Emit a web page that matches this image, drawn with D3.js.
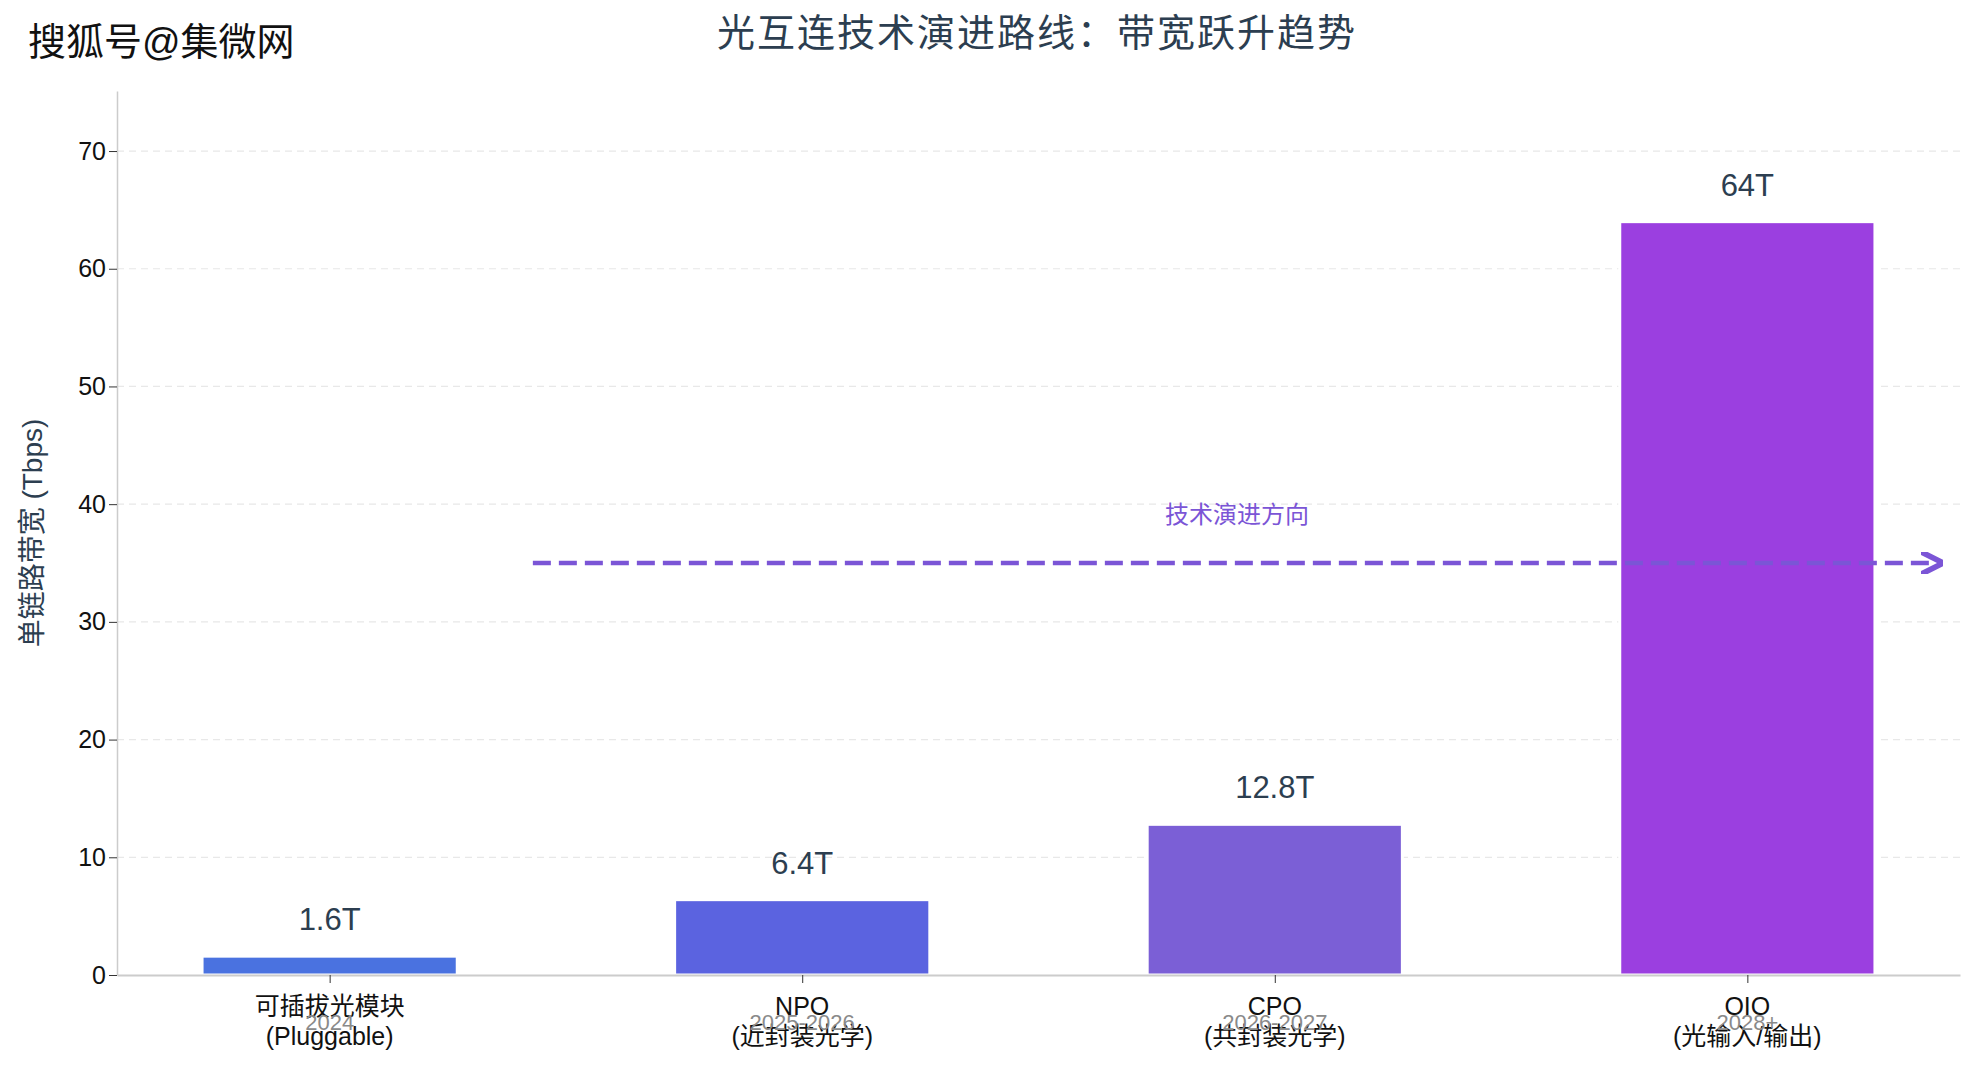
<!DOCTYPE html>
<html><head><meta charset="utf-8">
<script src="https://cdn.jsdelivr.net/npm/d3@7"></script>
<style>body{margin:0;background:#fff;font-family:"Liberation Sans","Noto Sans CJK SC",sans-serif;}</style>
</head><body><svg width="1979" height="1076"></svg>
<script>
var categories = ["可插拔光模块\n(Pluggable)", "NPO\n(近封装光学)", "CPO\n(共封装光学)", "OIO\n(光输入/输出)"];
var years = ["2024", "2025-2026", "2026-2027", "2028+"];
var values = [1.6, 6.4, 12.8, 64];
var labels = ["1.6T", "6.4T", "12.8T", "64T"];
var colors = ["#4a72e0", "#5b63e0", "#7b5fd6", "#9b3fe0"];
var yTicks = [0, 10, 20, 30, 40, 50, 60, 70];

var svg = d3.select("svg");
var padL = 117, padR = 1960, padT = 91, padB = 975;
var font = "'Liberation Sans','Noto Sans CJK SC',sans-serif";

var xScale = d3.scaleLinear().domain([-0.45, 3.45]).range([padL, padR]);
var yScale = d3.scaleLinear().domain([0, 75.1]).range([padB, padT]);

// grid
svg.append("g").selectAll("line").data(yTicks.slice(1)).enter().append("line")
  .attr("x1", padL).attr("x2", padR)
  .attr("y1", d => yScale(d)).attr("y2", d => yScale(d))
  .attr("stroke", "#e8e8e8").attr("stroke-dasharray", "7,5").attr("stroke-width", 1.2);

// bars
var bw = xScale(0.54) - xScale(0);
svg.append("g").selectAll("rect").data(values).enter().append("rect")
  .attr("x", (d, i) => xScale(i) - bw / 2)
  .attr("width", bw)
  .attr("y", d => yScale(d))
  .attr("height", d => yScale(0) - yScale(d))
  .attr("fill", (d, i) => colors[i])
  .attr("stroke", "#fff").attr("stroke-width", 3);

svg.append("g").selectAll("text").data(values).enter().append("text")
  .attr("x", (d, i) => xScale(i))
  .attr("y", d => yScale(d) - 26)
  .attr("text-anchor", "middle")
  .style("font-family", font).style("font-size", "31px").attr("fill", "#2c3e50")
  .text((d, i) => labels[i]);

// axes
var yAxis = d3.axisLeft(yScale).tickValues(yTicks).tickSize(8).tickSizeOuter(0);
var gy = svg.append("g").attr("transform", "translate(" + padL + ",0)").call(yAxis);
gy.select(".domain").attr("stroke", "#ccc").attr("stroke-width", 1.5);
gy.selectAll(".tick line").attr("stroke", "#333");
gy.selectAll(".tick text").style("font-family", font).style("font-size", "25px").attr("fill", "#111");

var xAxis = d3.axisBottom(xScale).tickValues([0, 1, 2, 3]).tickFormat("").tickSize(8).tickSizeOuter(0);
var gx = svg.append("g").attr("transform", "translate(0," + padB + ")").call(xAxis);
gx.select(".domain").attr("stroke", "#ccc").attr("stroke-width", 2);
gx.selectAll(".tick line").attr("stroke", "#333");

var cat = svg.append("g").selectAll("text").data(categories).enter().append("text")
  .attr("x", (d, i) => xScale(i)).attr("y", 1015)
  .attr("text-anchor", "middle")
  .style("font-family", font).style("font-size", "25px").attr("fill", "#111");
cat.selectAll("tspan").data(d => d.split("\n")).enter().append("tspan")
  .attr("x", function() { return d3.select(this.parentNode).attr("x"); })
  .attr("dy", (d, i) => i ? "1.2em" : 0).text(d => d);

svg.append("g").selectAll("text").data(years).enter().append("text")
  .attr("x", (d, i) => xScale(i)).attr("y", 1030)
  .attr("text-anchor", "middle")
  .style("font-family", font).style("font-size", "22px").attr("fill", "#8a8a8a")
  .text(d => d);

// arrow
svg.append("defs").append("marker").attr("id", "ah")
  .attr("viewBox", "0 0 10 10").attr("refX", 9).attr("refY", 5)
  .attr("markerWidth", 5).attr("markerHeight", 5).attr("orient", "auto")
  .append("path").attr("d", "M0,0 L10,5 L0,10").attr("fill", "none")
  .attr("stroke", "#7b55d6").attr("stroke-width", 2.5);
svg.append("line")
  .attr("x1", xScale(0.43)).attr("x2", xScale(3.41))
  .attr("y1", yScale(35)).attr("y2", yScale(35))
  .attr("stroke", "#7b55d6").attr("stroke-width", 4.5)
  .attr("stroke-dasharray", "18,8").attr("marker-end", "url(#ah)");
svg.append("text").attr("x", xScale(1.92)).attr("y", yScale(38.4))
  .attr("text-anchor", "middle")
  .style("font-family", font).style("font-size", "24px").attr("fill", "#7b55d6")
  .text("技术演进方向");

// titles
svg.append("text").attr("x", 1037).attr("y", 46).attr("text-anchor", "middle")
  .style("font-family", font).style("font-size", "38px").attr("fill", "#2c3e50")
  .attr("letter-spacing", "2px")
  .text("光互连技术演进路线：带宽跃升趋势");
svg.append("text").attr("transform", "rotate(-90)")
  .attr("x", -(padT + padB) / 2).attr("y", 42).attr("text-anchor", "middle")
  .style("font-family", font).style("font-size", "28px").attr("fill", "#2c3e50")
  .text("单链路带宽 (Tbps)");

// watermark
svg.append("text").attr("x", 28).attr("y", 55)
  .style("font-family", font).style("font-size", "38px").attr("fill", "#111")
  .attr("stroke", "#fff").attr("stroke-width", 4).attr("paint-order", "stroke")
  .text("搜狐号@集微网");
</script></body></html>
